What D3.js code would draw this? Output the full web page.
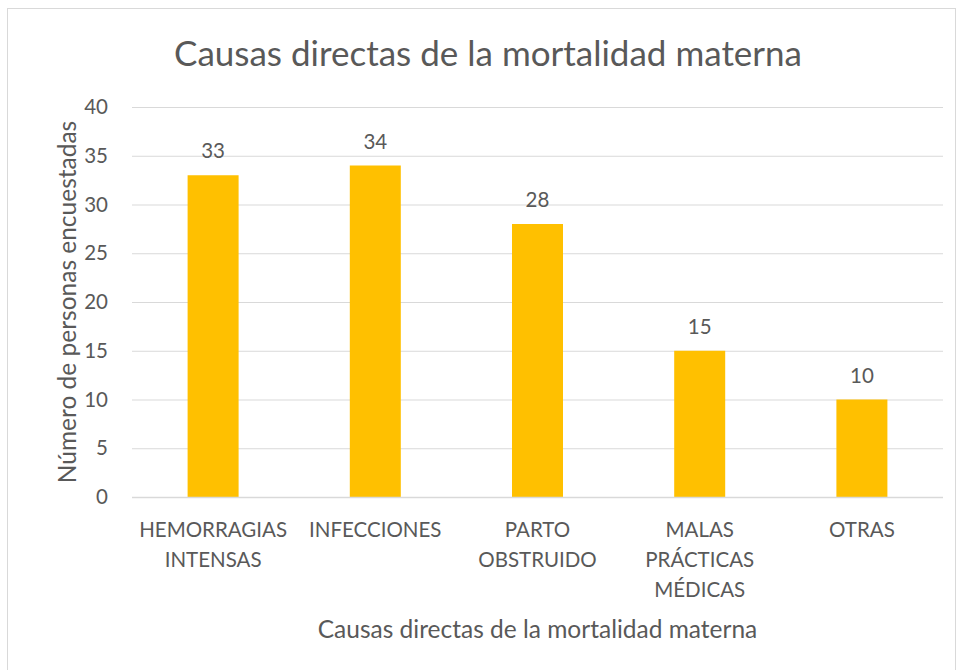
<!DOCTYPE html>
<html><head><meta charset="utf-8">
<script src="https://cdn.jsdelivr.net/npm/d3@7"></script>
<style>body{margin:0;background:#fff}svg{display:block}text{font-family:Lato,"Open Sans",sans-serif;fill:#595959}</style>
</head><body>
<script>
const categories = [["HEMORRAGIAS","INTENSAS"],["INFECCIONES"],["PARTO","OBSTRUIDO"],["MALAS","PRÁCTICAS","MÉDICAS"],["OTRAS"]];
const values = [33, 34, 28, 15, 10];
const yTicks = [0,5,10,15,20,25,30,35,40];
const title = "Causas directas de la mortalidad materna";
const xTitle = "Causas directas de la mortalidad materna";
const yTitle = "Número de personas encuestadas";

const W = 956, H = 670;
const svg = d3.select("body").append("svg").attr("width", W).attr("height", H);
svg.append("rect").attr("x",7.5).attr("y",8.5).attr("width",948).attr("height",680)
  .attr("fill","#fff").attr("stroke","#d9d9d9").attr("stroke-width",1);

const m = {left:132, right:943, top:107, bottom:497};
const x = d3.scaleBand().domain(d3.range(categories.length)).range([m.left, m.right]).paddingInner(0).paddingOuter(0);
const y = d3.scaleLinear().domain([0,40]).range([m.bottom, m.top]);

const yAxis = d3.axisLeft(y).tickValues(yTicks).tickSize(-(m.right-m.left)).tickPadding(24);
const gy = svg.append("g").attr("transform",`translate(${m.left},0)`).call(yAxis);
gy.select(".domain").remove();
gy.selectAll(".tick line").attr("stroke","#d9d9d9").attr("stroke-width",1);
gy.selectAll(".tick text").attr("font-size",20.5).attr("fill","#595959").attr("font-family","Lato");

const bw = 51;
svg.selectAll("rect.bar").data(values).join("rect").attr("class","bar")
  .attr("x",(d,i)=>x(i)+x.bandwidth()/2-bw/2).attr("width",bw)
  .attr("y",d=>y(d)).attr("height",d=>y(0)-y(d)).attr("fill","#ffc000");

svg.selectAll("text.lbl").data(values).join("text").attr("class","lbl")
  .attr("x",(d,i)=>x(i)+x.bandwidth()/2).attr("y",d=>y(d)-17)
  .attr("text-anchor","middle").attr("font-size",20.5).attr("fill","#404040").text(d=>d);

svg.append("line").attr("x1",m.left).attr("x2",m.right).attr("y1",y(0)+0.5).attr("y2",y(0)+0.5)
  .attr("stroke","#d9d9d9").attr("stroke-width",1.5);

const xl = svg.selectAll("text.xl").data(categories).join("text").attr("class","xl")
  .attr("text-anchor","middle").attr("font-size",20.5);
xl.each(function(lines,i){
  const t = d3.select(this);
  lines.forEach((s,j)=>t.append("tspan").attr("x",x(i)+x.bandwidth()/2).attr("y",537+j*30).text(s));
});

svg.append("text").attr("x",(m.left+m.right)/2).attr("y",638).attr("text-anchor","middle")
  .attr("font-size",24.5).text(xTitle);
svg.append("text").attr("transform",`translate(76,${(m.top+m.bottom)/2}) rotate(-90)`)
  .attr("text-anchor","middle").attr("font-size",24.5).text(yTitle);
svg.append("text").attr("x",488).attr("y",66).attr("text-anchor","middle")
  .attr("font-size",35).text(title);
</script>
</body></html>
